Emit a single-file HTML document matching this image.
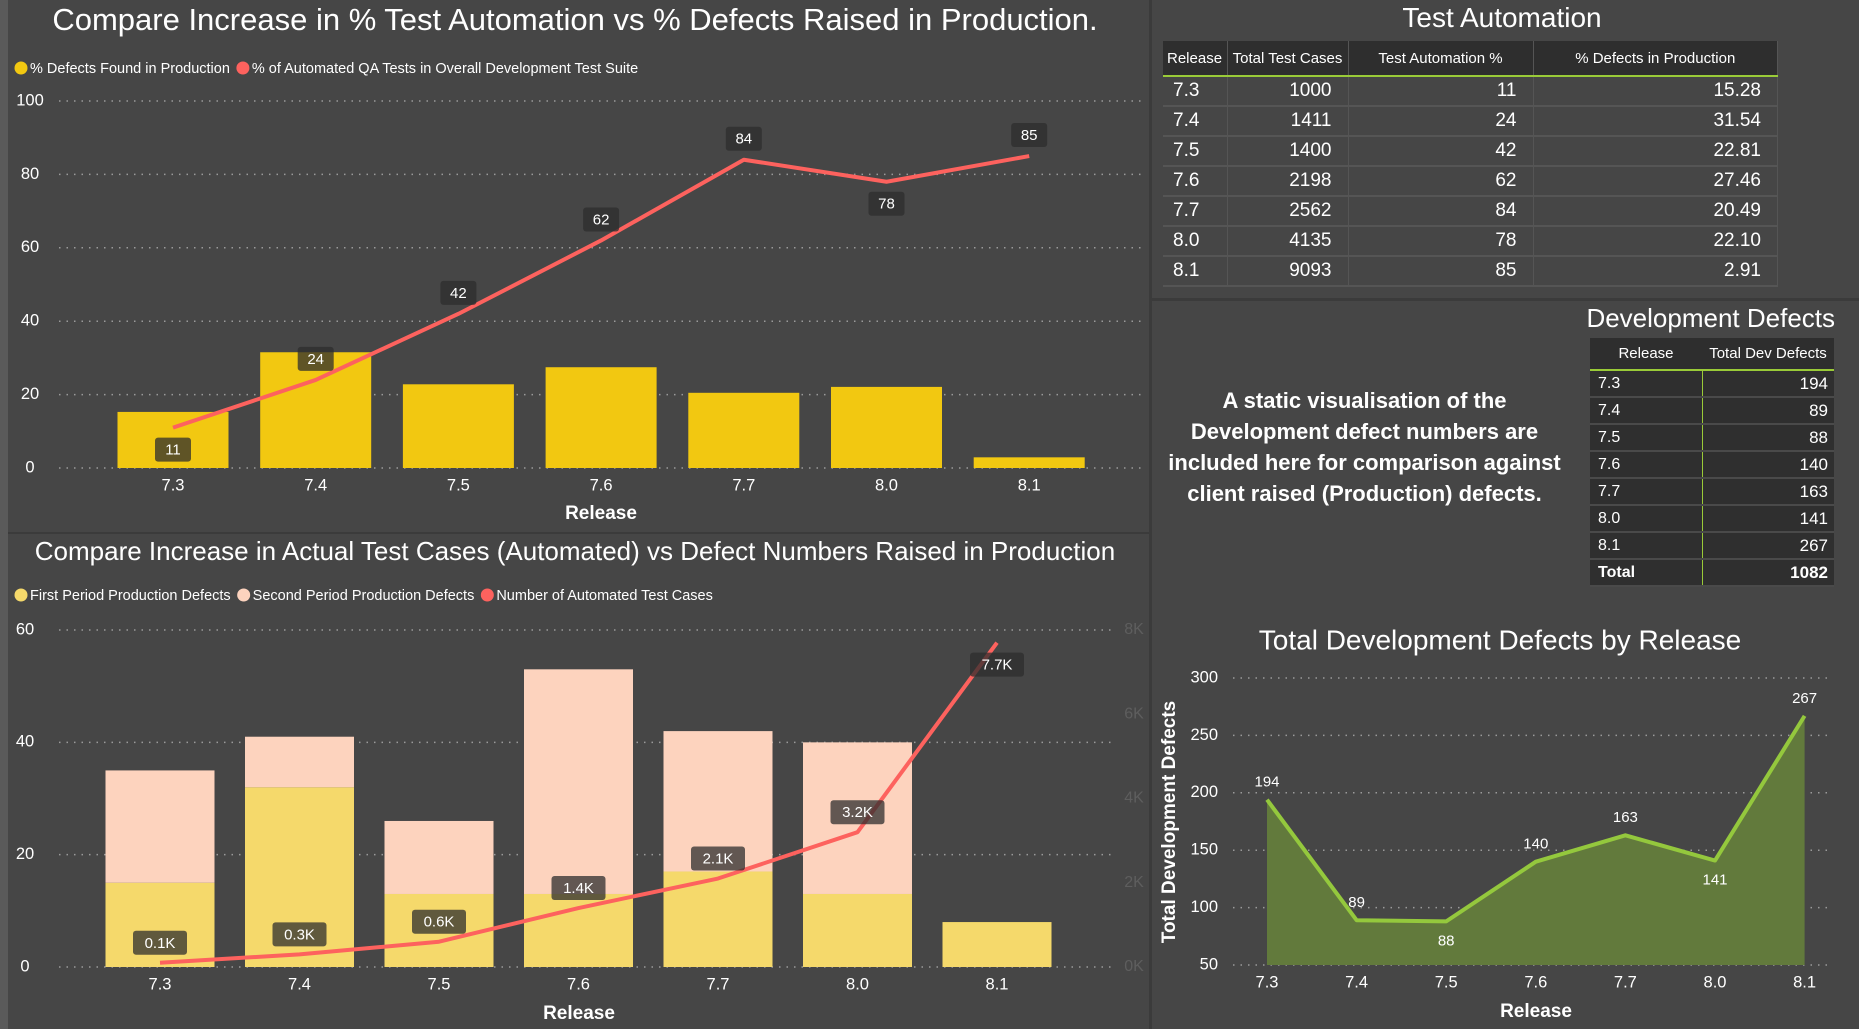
<!DOCTYPE html>
<html><head><meta charset="utf-8">
<style>
*{margin:0;padding:0;box-sizing:border-box}
body{width:1859px;height:1029px;background:#464646;overflow:hidden;font-family:"Liberation Sans",sans-serif;color:#fff;position:relative}
.abs{position:absolute}
table{border-collapse:collapse}
#ta td,#ta th{height:30px;font-weight:normal;padding:0 16px 0 10px;white-space:nowrap}
#ta th{background:#2e2e2e;font-size:15px;height:35px;border-bottom:2px solid #9acb38;border-right:1px solid #555;padding:0 4px}
#ta td{font-size:19px;border-bottom:2px solid #555;border-right:1px solid #555;text-align:right}
#ta td:first-child{text-align:left}
#dd th{background:#2e2e2e;font-size:15px;font-weight:normal;height:32px;border-bottom:2px solid #9acb38;white-space:nowrap}
#dd td{background:#2f2f2f;font-size:16px;height:27px;border-bottom:2px solid #4a4a4a;padding:0 6px 0 8px}
#dd td:last-child{text-align:right;border-left:1px solid #9acb38;font-size:17px}
</style></head><body>
<div class="abs" style="left:0;top:0;width:8px;height:1029px;background:#5a5a5a"></div>
<div class="abs" style="left:1149px;top:0;width:3px;height:1029px;background:#3b3b3b"></div>
<div class="abs" style="left:8px;top:532px;width:1141px;height:2px;background:#3b3b3b"></div>
<div class="abs" style="left:1152px;top:298px;width:707px;height:3px;background:#3b3b3b"></div>

<svg id="svg" class="abs" style="left:0;top:0" width="1859" height="1029"></svg>

<div class="abs" style="left:1152px;width:700px;top:0;text-align:center;font-size:28px;line-height:36px">Test Automation</div>
<table id="ta" class="abs" style="left:1163px;top:41px;width:615px">
<tr><th style="width:64px;text-align:left">Release</th><th style="width:121px">Total Test Cases</th><th style="width:185px">Test Automation %</th><th>% Defects in Production</th></tr>
<tr><td>7.3</td><td>1000</td><td>11</td><td>15.28</td></tr>
<tr><td>7.4</td><td>1411</td><td>24</td><td>31.54</td></tr>
<tr><td>7.5</td><td>1400</td><td>42</td><td>22.81</td></tr>
<tr><td>7.6</td><td>2198</td><td>62</td><td>27.46</td></tr>
<tr><td>7.7</td><td>2562</td><td>84</td><td>20.49</td></tr>
<tr><td>8.0</td><td>4135</td><td>78</td><td>22.10</td></tr>
<tr><td>8.1</td><td>9093</td><td>85</td><td>2.91</td></tr>
</table>

<div class="abs" style="right:24px;top:302px;font-size:26px;line-height:32px">Development Defects</div>
<table id="dd" class="abs" style="left:1590px;top:338px;width:244px">
<tr><th style="width:112px">Release</th><th>Total Dev Defects</th></tr>
<tr><td>7.3</td><td>194</td></tr><tr><td>7.4</td><td>89</td></tr><tr><td>7.5</td><td>88</td></tr><tr><td>7.6</td><td>140</td></tr><tr><td>7.7</td><td>163</td></tr><tr><td>8.0</td><td>141</td></tr><tr><td>8.1</td><td>267</td></tr>
<tr><td style="font-weight:bold">Total</td><td style="font-weight:bold">1082</td></tr>
</table>

<div class="abs" style="left:1152px;width:425px;top:385px;text-align:center;font-weight:bold;font-size:22px;line-height:31px">A static visualisation of the Development defect numbers are included here for comparison against client raised (Production) defects.</div>

<script>
const cats=["7.3","7.4","7.5","7.6","7.7","8.0","8.1"];
const pctDefects=[15.28,31.54,22.81,27.46,20.49,22.10,2.91];
const pctAuto=[11,24,42,62,84,78,85];
const firstDef=[15,32,13,13,17,13,8];
const secondDef=[20,9,13,40,25,27,0];
const autoCases=[0.1,0.3,0.6,1.4,2.1,3.2,7.7];
const devDef=[194,89,88,140,163,141,267];
const ticks1=[0,20,40,60,80,100];
const ticks2=[0,20,40,60];
const ticks2r=[0,2,4,6,8];
const ticks3=[50,100,150,200,250,300];
const above1=[false,true,true,true,true,false,true];
const above2=[true,true,true,true,true,true,false];
const above3=[true,true,false,true,true,false,true];

const svg=document.getElementById('svg');
const NS='http://www.w3.org/2000/svg';
function el(t,a,p){const e=document.createElementNS(NS,t);for(const k in a)e.setAttribute(k,a[k]);(p||svg).appendChild(e);return e;}
function txt(x,y,s,a){const e=el('text',Object.assign({x:x,y:y,fill:'#fff','font-family':'Liberation Sans, sans-serif','font-size':15,'text-anchor':'middle','dominant-baseline':'middle'},a||{}));e.textContent=s;return e;}
function grid(x1,x2,y){el('line',{x1:x1,x2:x2,y1:y,y2:y,stroke:'#9a9a9a','stroke-width':1.5,'stroke-dasharray':'1.5 6'});}
function labelBox(x,y,s,name){
  const g=el('g',{});
  
  
  const w=s.length*9+18;
  el('rect',{x:x-w/2,y:y-12,width:w,height:24,rx:3,fill:'rgba(45,45,45,0.75)'},g);
  const t=el('text',{x:x,y:y+1,fill:'#fff','font-family':'Liberation Sans, sans-serif','font-size':15,'text-anchor':'middle','dominant-baseline':'middle'},g);t.textContent=s;
}
function legend(x,y,items){
  let cx=x;
  items.forEach(it=>{
    const g=el('g',{});
    
    
    el('circle',{cx:cx+7,cy:y,r:6.5,fill:it[1]},g);
    const t=el('text',{x:cx+16,y:y+1,fill:'#fff','font-family':'Liberation Sans, sans-serif','font-size':14.5,'dominant-baseline':'middle'},g);t.textContent=it[0];
    cx+=16+t.getComputedTextLength()+6;
  });
}

// ---------- Chart 1 ----------
(function(){
  const x0=173,step=142.7,yb=468,yt=101,bw=111;
  const X=i=>x0+i*step, Y=v=>yb-(v/100)*(yb-yt);
  const t=txt(575,22,"Compare Increase in % Test Automation vs % Defects Raised in Production.",{'font-size':31});
  
  legend(14,68,[["% Defects Found in Production","#f2c811"],["% of Automated QA Tests in Overall Development Test Suite","#fd625e"]]);
  ticks1.forEach(v=>{grid(59,1144,Y(v));txt(30,Y(v),String(v),{'font-size':16.5});});
  pctDefects.forEach((v,i)=>{const r=el('rect',{x:X(i)-bw/2,y:Y(v),width:bw,height:yb-Y(v),fill:'#f2c811'});
    });
  const pl=el('polyline',{points:pctAuto.map((v,i)=>X(i)+','+Y(v)).join(' '),fill:'none',stroke:'#fd625e','stroke-width':4,'stroke-linejoin':'round'});
  
  pctAuto.forEach((v,i)=>labelBox(X(i),Y(v)+(above1[i]?-21:22),String(v),'automation-label'));
  cats.forEach((c,i)=>txt(X(i),486,c,{'font-size':16.5}));
  txt(601,514,"Release",{'font-size':19,'font-weight':'bold'});
})();

// ---------- Chart 2 ----------
(function(){
  const x0=160,step=139.5,yb=967,yt=630,bw=109;
  const X=i=>x0+i*step, Y=v=>yb-(v/60)*(yb-yt), Yr=v=>yb-(v/8)*(yb-yt);
  txt(575,553,"Compare Increase in Actual Test Cases (Automated) vs Defect Numbers Raised in Production",{'font-size':26});
  legend(14,595,[["First Period Production Defects","#f5d96b"],["Second Period Production Defects","#fdd3be"],["Number of Automated Test Cases","#fd625e"]]);
  ticks2.forEach(v=>{grid(59,1114,Y(v));txt(25,Y(v),String(v),{'font-size':16.5});});
  ticks2r.forEach(v=>txt(1134,Yr(v),v+"K",{'font-size':16,fill:'#5e5e5e'}));
  firstDef.forEach((v,i)=>{
    const a=el('rect',{x:X(i)-bw/2,y:Y(v),width:bw,height:yb-Y(v),fill:'#f5d96b'});
    
    const s=secondDef[i];
    if(s>0){const b=el('rect',{x:X(i)-bw/2,y:Y(v+s),width:bw,height:Y(v)-Y(v+s),fill:'#fdd3be'});
      }
  });
  const pl=el('polyline',{points:autoCases.map((v,i)=>X(i)+','+Yr(v)).join(' '),fill:'none',stroke:'#fd625e','stroke-width':4,'stroke-linejoin':'round'});
  
  autoCases.forEach((v,i)=>labelBox(X(i),Yr(v)+(above2[i]?-20:22),v.toFixed(1)+"K",'cases-label'));
  cats.forEach((c,i)=>txt(X(i),985,c,{'font-size':16.5}));
  txt(579,1014,"Release",{'font-size':19,'font-weight':'bold'});
})();

// ---------- Chart 3 ----------
(function(){
  const x0=1267,step=89.6,yb=965,yt=678;
  const X=i=>x0+i*step, Y=v=>yb-((v-50)/250)*(yb-yt);
  txt(1500,642,"Total Development Defects by Release",{'font-size':28});
  ticks3.forEach(v=>{grid(1233,1832,Y(v));txt(1218,Y(v),String(v),{'font-size':16.5,'text-anchor':'end'});});
  const pts=devDef.map((v,i)=>X(i)+','+Y(v)).join(' ');
  const ar=el('polygon',{points:X(0)+','+yb+' '+pts+' '+X(6)+','+yb,fill:'#627a3c'});
  
  const pl=el('polyline',{points:pts,fill:'none',stroke:'#94c83d','stroke-width':4,'stroke-linejoin':'round'});
  
  devDef.forEach((v,i)=>txt(X(i),Y(v)+(above3[i]?-17:20),String(v),{'font-size':15}));
  cats.forEach((c,i)=>txt(X(i),983,c,{'font-size':16.5}));
  txt(1536,1012,"Release",{'font-size':19,'font-weight':'bold'});
  txt(1170,822,"Total Development Defects",{'font-size':19,'font-weight':'bold',transform:'rotate(-90 1170 822)'});
})();
</script>
</body></html>
